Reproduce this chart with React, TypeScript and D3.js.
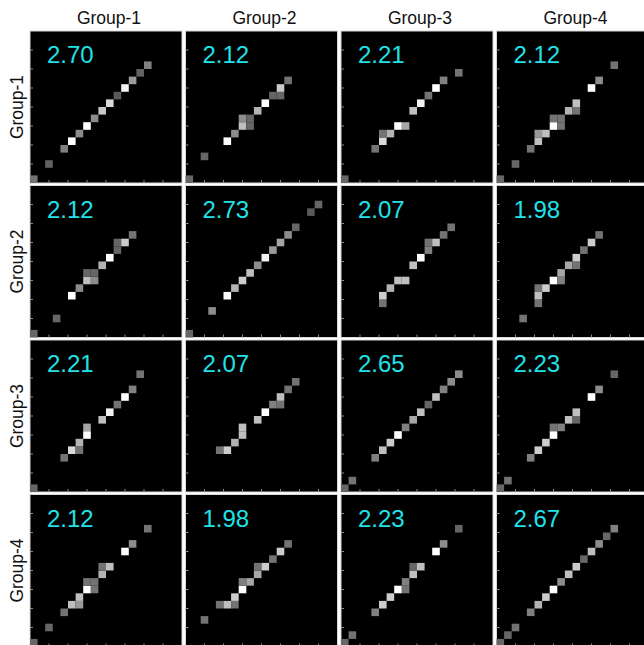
import React, { useEffect, useRef } from 'react';
import * as d3 from 'd3';

// [col, row, intensity] — row counted from the bottom of each panel
type Cell = [number, number, number];

const groups = ['Group-1', 'Group-2', 'Group-3', 'Group-4'];

const scores: number[][] = [
  [2.70, 2.12, 2.21, 2.12],
  [2.12, 2.73, 2.07, 1.98],
  [2.21, 2.07, 2.65, 2.23],
  [2.12, 1.98, 2.23, 2.67],
];

const bins = d3.range(20);

const cells11: Cell[] = [[0,0,.45],[2,2,.38],[4,4,.5],[5,5,1],[6,6,.55],[7,7,1],[8,8,.55],[9,9,.78],[10,10,.85],[11,11,.35],[12,12,.95],[13,13,.6],[14,14,.38],[15,15,.5]];
const cells12: Cell[] = [[0,0,.4],[2,3,.4],[5,5,1],[6,6,.55],[7,7,.75],[7,8,.55],[8,7,.4],[8,8,.4],[9,9,.7],[10,10,1],[11,11,.4],[12,11,.4],[12,12,.8],[13,13,.45]];
const cells13: Cell[] = [[0,0,.4],[4,4,.45],[5,5,.85],[5,6,.45],[6,6,.7],[7,7,1],[8,7,.65],[9,9,.75],[10,10,.95],[11,11,.45],[12,12,1],[13,13,.5],[15,14,.45]];
const cells14: Cell[] = [[0,0,.4],[2,2,.4],[4,4,.45],[5,5,.75],[5,6,.6],[6,6,.75],[7,7,1],[7,8,.45],[8,7,.45],[8,8,.45],[9,9,.7],[10,9,.45],[10,10,.75],[12,12,1],[13,13,.55],[15,15,.45]];

const cells21: Cell[] = [[0,0,.4],[3,2,.4],[5,5,1],[6,6,.55],[7,7,.75],[8,7,.55],[7,8,.4],[8,8,.4],[9,9,.7],[10,10,1],[11,11,.4],[11,12,.4],[12,12,.8],[13,13,.45]];
const cells22: Cell[] = [[0,0,.4],[3,3,.55],[5,5,1],[6,6,.7],[7,7,.8],[8,8,.75],[9,9,.55],[10,10,.95],[11,11,.6],[12,12,.65],[13,13,.55],[14,14,.4],[16,16,.35],[17,17,.4]];
const cells23: Cell[] = [[5,4,.45],[5,5,.8],[6,6,.7],[7,7,.75],[8,7,.75],[9,9,.75],[10,10,1],[11,11,.5],[11,12,.45],[12,12,.75],[13,13,.45],[14,14,.45]];
const cells24: Cell[] = [[3,2,.45],[5,4,.45],[5,5,.75],[5,6,.45],[6,6,.8],[7,7,1],[8,7,.5],[8,8,.65],[9,9,.65],[10,9,.45],[10,10,.8],[11,11,.45],[12,12,.8],[13,13,.45]];

const cells31: Cell[] = [[0,0,.4],[4,4,.45],[5,5,.85],[6,5,.45],[6,6,.7],[7,7,1],[7,8,.65],[9,9,.75],[10,10,.95],[11,11,.45],[12,12,1],[13,13,.5],[14,15,.45]];
const cells32: Cell[] = [[4,5,.45],[5,5,.8],[6,6,.7],[7,7,.75],[7,8,.75],[9,9,.75],[10,10,1],[11,11,.5],[12,11,.45],[12,12,.75],[13,13,.45],[14,14,.45]];
const cells33: Cell[] = [[0,0,.4],[1,1,.45],[4,4,.5],[5,5,.75],[6,6,.8],[7,7,1],[8,8,.5],[9,9,.65],[10,10,.75],[11,11,.4],[12,12,.75],[13,13,.5],[14,14,.55],[15,15,.55]];
const cells34: Cell[] = [[0,0,.4],[1,1,.45],[4,4,.5],[5,5,.8],[6,6,.8],[7,7,1],[7,8,.45],[8,8,.5],[9,9,.75],[10,9,.4],[10,10,.75],[12,12,1],[13,13,.55],[15,15,.4]];

const cells41: Cell[] = [[0,0,.4],[2,2,.4],[4,4,.45],[5,5,.75],[6,5,.6],[6,6,.75],[7,7,1],[8,7,.45],[7,8,.45],[8,8,.45],[9,9,.7],[9,10,.45],[10,10,.75],[12,12,1],[13,13,.55],[15,15,.45]];
const cells42: Cell[] = [[2,3,.45],[4,5,.45],[5,5,.75],[6,5,.45],[6,6,.8],[7,7,1],[7,8,.5],[8,8,.65],[9,9,.65],[9,10,.45],[10,10,.8],[11,11,.45],[12,12,.8],[13,13,.45]];
const cells43: Cell[] = [[0,0,.4],[1,1,.45],[4,4,.5],[5,5,.8],[6,6,.8],[7,7,1],[8,7,.45],[8,8,.5],[9,9,.75],[9,10,.4],[10,10,.75],[12,12,1],[13,13,.55],[15,15,.4]];
const cells44: Cell[] = [[0,0,.4],[1,1,.4],[2,2,.45],[4,4,.5],[5,5,.7],[6,6,.8],[7,7,1],[8,8,.55],[9,9,.75],[10,10,.8],[11,11,.4],[12,12,.75],[13,13,.55],[14,14,.4],[15,15,.5]];

const panelCells: Cell[][][] = [
  [cells11, cells12, cells13, cells14],
  [cells21, cells22, cells23, cells24],
  [cells31, cells32, cells33, cells34],
  [cells41, cells42, cells43, cells44],
];

const App: React.FC = () => {
  const ref = useRef<SVGSVGElement>(null);

  useEffect(() => {
    if (!ref.current) return;
    const width = 644;
    const height = 645;
    const panelW = 152;
    const panelH = 152;

    const svg = d3.select(ref.current)
      .attr('width', width)
      .attr('height', height)
      .attr('viewBox', [0, 0, width, height]);
    svg.selectAll('*').remove();

    // panel origins
    const colX = d3.scaleLinear().domain([0, 3]).range([30, 496.5]);
    const rowY = d3.scaleLinear().domain([0, 3]).range([31, 494.5]);

    const x = d3.scaleBand<number>().domain(bins).range([0, panelW]);
    const y = d3.scaleBand<number>().domain(bins).range([panelH, 0]);
    const shade = d3.scaleLinear<string>().domain([0, 1]).range(['#000000', '#ffffff']);
    const ticks = d3.range(1, 8).map(i => (i * panelW) / 8);

    const font = 'Liberation Sans, Arial, sans-serif';

    // column headers
    svg.selectAll('.colLabel')
      .data(groups)
      .enter().append('text')
      .attr('class', 'colLabel')
      .attr('x', (_, i) => colX(i) + panelW / 2 + 3)
      .attr('y', 24)
      .attr('text-anchor', 'middle')
      .style('font-family', font)
      .style('font-size', '17.5px')
      .attr('fill', '#111')
      .text(d => d);

    // row labels
    svg.selectAll('.rowLabel')
      .data(groups)
      .enter().append('text')
      .attr('class', 'rowLabel')
      .attr('transform', (_, i) => `translate(23,${rowY(i) + panelH / 2}) rotate(-90)`)
      .attr('text-anchor', 'middle')
      .style('font-family', font)
      .style('font-size', '17.5px')
      .attr('fill', '#111')
      .text(d => d);

    panelCells.forEach((rowCells, r) => {
      rowCells.forEach((cells, c) => {
        const g = svg.append('g')
          .attr('transform', `translate(${colX(c)},${rowY(r)})`);

        g.append('rect')
          .attr('width', panelW)
          .attr('height', panelH)
          .attr('fill', '#000')
          .attr('stroke', '#d8d8d8')
          .attr('stroke-width', 1);

        // inward ticks, left and bottom
        g.selectAll('.ly')
          .data(ticks)
          .enter().append('line')
          .attr('x1', 0).attr('x2', 3)
          .attr('y1', d => d).attr('y2', d => d)
          .attr('stroke', '#8a8a8a').attr('stroke-width', 1);
        g.selectAll('.lx')
          .data(ticks)
          .enter().append('line')
          .attr('x1', d => d).attr('x2', d => d)
          .attr('y1', panelH).attr('y2', panelH - 3)
          .attr('stroke', '#8a8a8a').attr('stroke-width', 1);

        g.selectAll('.cell')
          .data(cells)
          .enter().append('rect')
          .attr('class', 'cell')
          .attr('x', d => x(d[0])!)
          .attr('y', d => y(d[1])!)
          .attr('width', x.bandwidth())
          .attr('height', y.bandwidth())
          .attr('fill', d => shade(d[2]));

        g.append('text')
          .attr('x', 17)
          .attr('y', 32)
          .style('font-family', font)
          .style('font-size', '24px')
          .attr('fill', '#20e2e8')
          .text(scores[r][c].toFixed(2));
      });
    });
  }, []);

  return (
    <svg ref={ref} style={{ position: 'absolute', left: 0, top: 0 }}></svg>
  );
};

export default App;
